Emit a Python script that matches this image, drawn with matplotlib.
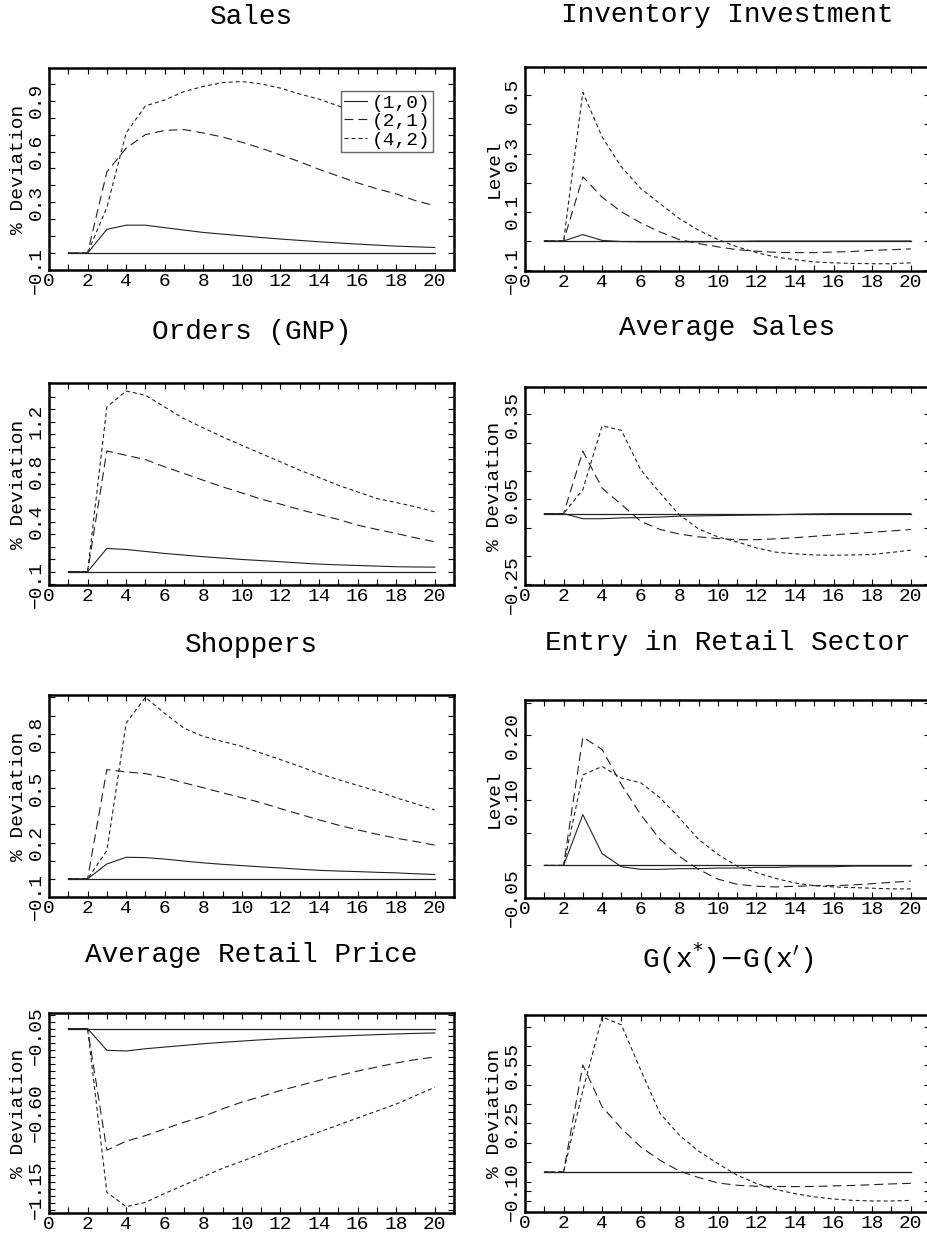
import numpy as np
import matplotlib
matplotlib.use("Agg")
import matplotlib.pyplot as plt
from matplotlib.ticker import FixedLocator

plt.rcParams["font.family"] = ["Liberation Mono", "DejaVu Sans Mono"]

# --- data (impulse responses, periods 1..20) ---
periods = list(range(1, 21))
series_names = ["(1,0)", "(2,1)", "(4,2)"]

sales_10 = [0, 0, 0.14, 0.165, 0.165, 0.15, 0.136, 0.122, 0.112, 0.102,
            0.092, 0.083, 0.075, 0.067, 0.06, 0.053, 0.047, 0.041, 0.037, 0.033]
sales_21 = [0, 0, 0.48, 0.62, 0.70, 0.725, 0.73, 0.71, 0.686, 0.655,
            0.62, 0.58, 0.54, 0.495, 0.455, 0.415, 0.38, 0.35, 0.31, 0.28]
sales_42 = [0, 0, 0.27, 0.71, 0.87, 0.905, 0.955, 0.985, 1.008, 1.014,
            1.0, 0.975, 0.94, 0.91, 0.87, 0.83, 0.79, 0.75, 0.71, 0.67]

inv_10 = [0, 0, 0.022, 0.002, -0.002, -0.003, -0.003, -0.003, -0.003, -0.002,
          -0.001, 0, 0, 0, 0, 0, 0, 0, 0, 0]
inv_21 = [0, 0, 0.22, 0.15, 0.10, 0.062, 0.031, 0.005, -0.009, -0.02,
          -0.03, -0.035, -0.039, -0.04, -0.04, -0.038, -0.036, -0.032, -0.03, -0.027]
inv_42 = [0, 0, 0.51, 0.357, 0.254, 0.18, 0.128, 0.077, 0.037, 0.005,
          -0.02, -0.04, -0.055, -0.064, -0.072, -0.075, -0.077, -0.078, -0.078, -0.075]

orders_10 = [0, 0, 0.186, 0.178, 0.162, 0.146, 0.133, 0.12, 0.109, 0.098,
             0.089, 0.08, 0.07, 0.061, 0.055, 0.05, 0.045, 0.04, 0.038, 0.037]
orders_21 = [0, 0, 0.965, 0.93, 0.896, 0.838, 0.785, 0.731, 0.678, 0.63,
             0.58, 0.54, 0.497, 0.457, 0.418, 0.372, 0.338, 0.306, 0.271, 0.239]
orders_42 = [0, 0, 1.316, 1.444, 1.41, 1.316, 1.223, 1.15, 1.077, 1.01,
             0.944, 0.878, 0.811, 0.753, 0.691, 0.638, 0.585, 0.553, 0.519, 0.479]

avgsales_10 = [0, 0, -0.018, -0.018, -0.015, -0.014, -0.012, -0.009, -0.008, -0.007,
               -0.006, -0.005, -0.004, -0.002, -0.001, 0, 0, 0, 0, 0]
avgsales_21 = [0, 0, 0.22, 0.09, 0.032, -0.027, -0.056, -0.072, -0.082, -0.088,
               -0.092, -0.092, -0.089, -0.085, -0.08, -0.075, -0.07, -0.066, -0.061, -0.056]
avgsales_42 = [0, 0, 0.085, 0.31, 0.294, 0.155, 0.073, -0.004, -0.054, -0.082,
               -0.1, -0.121, -0.136, -0.142, -0.146, -0.147, -0.146, -0.144, -0.137, -0.129]

shoppers_10 = [0, 0, 0.082, 0.119, 0.117, 0.109, 0.098, 0.088, 0.08, 0.073,
               0.066, 0.06, 0.053, 0.047, 0.043, 0.04, 0.036, 0.033, 0.028, 0.024]
shoppers_21 = [0, 0, 0.602, 0.589, 0.58, 0.557, 0.529, 0.502, 0.474, 0.447,
               0.42, 0.387, 0.356, 0.325, 0.296, 0.27, 0.246, 0.224, 0.206, 0.186]
shoppers_42 = [0, 0, 0.155, 0.858, 1.0, 0.912, 0.83, 0.785, 0.757, 0.73,
               0.693, 0.657, 0.62, 0.58, 0.547, 0.515, 0.484, 0.447, 0.414, 0.38]

entry_10 = [0, 0, 0.078, 0.018, -0.002, -0.006, -0.006, -0.005, -0.005, -0.004,
            -0.004, -0.003, -0.003, -0.002, -0.002, -0.002, -0.001, -0.001, -0.001, -0.001]
entry_21 = [0, 0, 0.197, 0.178, 0.124, 0.078, 0.04, 0.014, -0.006, -0.021,
            -0.029, -0.032, -0.033, -0.032, -0.031, -0.031, -0.03, -0.028, -0.026, -0.024]
entry_42 = [0, 0, 0.139, 0.152, 0.134, 0.127, 0.104, 0.073, 0.04, 0.017,
            -0.001, -0.011, -0.02, -0.027, -0.031, -0.033, -0.034, -0.035, -0.036, -0.036]

price_10 = [0, 0, -0.155, -0.16, -0.144, -0.132, -0.12, -0.108, -0.098, -0.089,
            -0.08, -0.072, -0.066, -0.06, -0.054, -0.048, -0.043, -0.038, -0.034, -0.031]
price_21 = [0, 0, -0.87, -0.806, -0.766, -0.718, -0.67, -0.629, -0.574, -0.526,
            -0.486, -0.443, -0.407, -0.371, -0.337, -0.304, -0.275, -0.246, -0.222, -0.203]
price_42 = [0, 0, -1.172, -1.275, -1.244, -1.18, -1.12, -1.06, -1.0, -0.95,
            -0.895, -0.84, -0.79, -0.74, -0.69, -0.64, -0.59, -0.54, -0.48, -0.42]

gap_10 = [0] * 20
gap_21 = [0, 0, 0.552, 0.336, 0.224, 0.129, 0.06, 0.005, -0.029, -0.057,
          -0.069, -0.074, -0.075, -0.076, -0.075, -0.072, -0.07, -0.066, -0.062, -0.059]
gap_42 = [0, 0, 0.42, 0.80, 0.759, 0.526, 0.302, 0.19, 0.107, 0.043,
          -0.017, -0.06, -0.091, -0.112, -0.129, -0.14, -0.147, -0.15, -0.15, -0.147]

titles = ["Sales", "Inventory Investment", "Orders (GNP)", "Average Sales",
          "Shoppers", "Entry in Retail Sector", "Average Retail Price",
          r"G(x$^{*}$)$-$G(x$'$)"]
ylabels = ["% Deviation", "Level", "% Deviation", "% Deviation",
           "% Deviation", "Level", "% Deviation", "% Deviation"]
panel_series = [
    (sales_10, sales_21, sales_42),
    (inv_10, inv_21, inv_42),
    (orders_10, orders_21, orders_42),
    (avgsales_10, avgsales_21, avgsales_42),
    (shoppers_10, shoppers_21, shoppers_42),
    (entry_10, entry_21, entry_42),
    (price_10, price_21, price_42),
    (gap_10, gap_21, gap_42),
]
ytick_vals = [
    [-0.1, 0.3, 0.6, 0.9],
    [-0.1, 0.1, 0.3, 0.5],
    [-0.1, 0.4, 0.8, 1.2],
    [-0.25, 0.05, 0.35],
    [-0.1, 0.2, 0.5, 0.8],
    [-0.05, 0.10, 0.20],
    [-1.15, -0.60, -0.05],
    [-0.10, 0.25, 0.55],
]
ytick_text = [
    ["\u22120.1", "0.3", "0.6", "0.9"],
    ["\u22120.1", "0.1", "0.3", "0.5"],
    ["\u22120.1", "0.4", "0.8", "1.2"],
    ["\u22120.25", "0.05", "0.35"],
    ["\u22120.1", "0.2", "0.5", "0.8"],
    ["\u22120.05", "0.10", "0.20"],
    ["\u22121.15", "\u22120.60", "\u22120.05"],
    ["\u22120.10", "0.25", "0.55"],
]
ylims = [(-0.1, 1.094), (-0.103, 0.597), (-0.106, 1.508), (-0.252, 0.447),
         (-0.1, 1.013), (-0.05, 0.254), (-1.32, 0.112), (-0.207, 0.81)]
minor_ticks = [
    np.arange(-0.1, 1.1, 0.1),
    np.arange(-0.1, 0.6, 0.1),
    np.arange(-0.1, 1.5, 0.1),
    np.arange(-0.25, 0.45, 0.1),
    np.arange(-0.1, 1.01, 0.1),
    np.arange(-0.05, 0.26, 0.05),
    np.arange(-1.3, 0.11, 0.05),
    np.arange(-0.15, 0.8, 0.1),
]

# layout in pixels: (left, top, bottom) of each axes box, title y
W, H = 927, 1239
boxes = [(49, 68, 270), (525, 67, 271), (49, 383, 585), (525, 387, 585),
         (49, 695, 897), (525, 700, 898), (49, 1013, 1213), (525, 1015, 1212)]
title_y = [17, 15, 332, 328, 645, 643, 955, 958]
ax_w = 405

styles = [dict(linestyle="-"),
          dict(linestyle="--", dashes=(8, 4.5)),
          dict(linestyle="--", dashes=(3.6, 2.7))]

fig = plt.figure(figsize=(W / 100, H / 100), dpi=100)

for i in range(8):
    left, top, bottom = boxes[i]
    ax = fig.add_axes([left / W, 1 - bottom / H, ax_w / W, (bottom - top) / H])
    # zero reference line
    ax.plot([periods[0], periods[-1]], [0, 0], color="#222222", lw=0.9)
    for vals, name, st in zip(panel_series[i], series_names, styles):
        ax.plot(periods, vals, color="#222222", lw=0.8, label=name, **st)

    ax.set_xlim(0, 21)
    ax.set_ylim(*ylims[i])
    ax.set_xticks(range(0, 21, 2))
    ax.xaxis.set_minor_locator(FixedLocator(range(0, 22)))
    ax.set_yticks(ytick_vals[i], ytick_text[i])
    ax.yaxis.set_minor_locator(FixedLocator(minor_ticks[i]))
    for lbl in ax.get_yticklabels():
        lbl.set_rotation(90)
        lbl.set_va("center")
    ax.tick_params(which="both", direction="in", top=True, right=True,
                   length=4, width=0.8, labelsize=14)
    ax.tick_params(axis="y", pad=3)
    ax.tick_params(axis="x", pad=2)
    for sp in ax.spines.values():
        sp.set_linewidth(1.8)

    ax.set_ylabel(ylabels[i], fontsize=14)
    ax.yaxis.set_label_coords(-0.055, 0.5)

    fig.text((left + ax_w / 2) / W, 1 - title_y[i] / H, titles[i],
             ha="center", va="center", fontsize=20)

    if i == 0:
        ax.legend(loc="upper right", bbox_to_anchor=(0.948, 0.886),
                  fontsize=14, handlelength=1.2, handletextpad=0.2,
                  labelspacing=0.05, borderpad=0.15, borderaxespad=0,
                  fancybox=False, framealpha=1, edgecolor="#666666")

fig.savefig("out.png", dpi=100)
